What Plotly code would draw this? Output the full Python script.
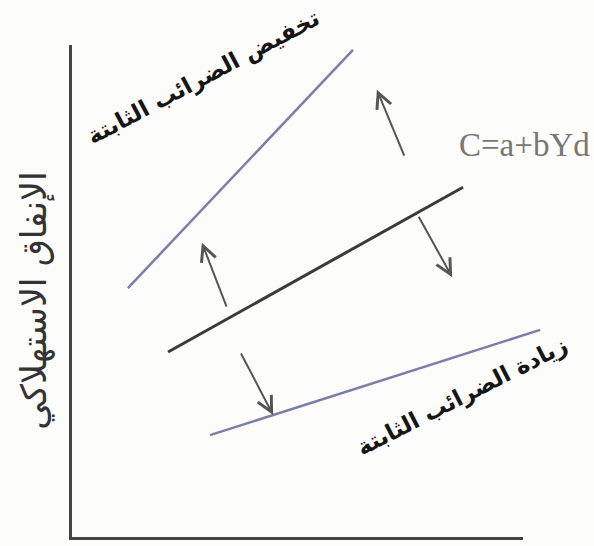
import plotly.graph_objects as go

# consumption lines (income Yd on x, consumption C on y), arbitrary units
yd_tax_cut = [1.24, 6.23]
c_tax_cut = [5.06, 9.90]
yd_base = [2.13, 8.67]
c_base = [3.76, 7.11]
yd_tax_rise = [3.06, 10.38]
c_tax_rise = [2.07, 4.21]

# shift arrows: tail -> head
arrow_tail_x = [3.44, 7.38, 7.67, 3.73]
arrow_tail_y = [4.65, 7.72, 6.54, 3.76]
arrow_head_x = [2.88, 6.76, 8.43, 4.46]
arrow_head_y = [5.98, 9.09, 5.28, 2.48]

label_cut = "تخفيض الضرائب الثابتة"
label_rise = "زيادة الضرائب الثابتة"
label_y = "الإنفاق الاستهلاكي"
label_eq = "C=a+bYd"

X_RANGE = [-1.596, 11.574]
Y_RANGE = [-0.183, 10.915]
AXIS_MAX = 10

BLUE = "#7b7fa8"
DARK = "#3a3a3a"
ARROW = "#555555"


def frac(v, rng):
    return (v - rng[0]) / (rng[1] - rng[0])


fig = go.Figure()
fig.add_trace(go.Scatter(x=yd_tax_cut, y=c_tax_cut, mode="lines",
                         line=dict(color=BLUE, width=2.5), hoverinfo="skip"))
fig.add_trace(go.Scatter(x=yd_base, y=c_base, mode="lines",
                         line=dict(color=DARK, width=3), hoverinfo="skip"))
fig.add_trace(go.Scatter(x=yd_tax_rise, y=c_tax_rise, mode="lines",
                         line=dict(color=BLUE, width=2.5), hoverinfo="skip"))
# empty trace so the L-shaped axes get drawn
fig.add_trace(go.Scatter(x=[], y=[], xaxis="x2", yaxis="y2"))

for tx, ty, hx, hy in zip(arrow_tail_x, arrow_tail_y, arrow_head_x, arrow_head_y):
    fig.add_annotation(
        x=hx, y=hy, ax=tx, ay=ty, xref="x", yref="y", axref="x", ayref="y",
        text="", showarrow=True, arrowhead=5, arrowsize=1.5, arrowwidth=2,
        arrowcolor=ARROW, standoff=0,
    )

label_font = dict(family="DejaVu Sans", size=23, color="#151515", weight="bold")
fig.add_annotation(x=2.91, y=9.33, text=label_cut, showarrow=False,
                   textangle=-28, font=label_font)
fig.add_annotation(x=8.65, y=2.85, text=label_rise, showarrow=False,
                   textangle=-27, font=label_font)
fig.add_annotation(x=-0.82, y=4.80, text=label_y, showarrow=False,
                   textangle=-90, font=dict(family="DejaVu Sans", size=35, color="#333333"))
fig.add_annotation(x=8.54, y=7.97, text=label_eq, showarrow=False, xanchor="left",
                   font=dict(family="Liberation Serif", size=33, color="#777777"))

hidden = dict(visible=False, fixedrange=True)
fig.update_layout(
    width=594,
    height=546,
    margin=dict(l=0, r=0, t=0, b=0),
    paper_bgcolor="#fcfcfa",
    plot_bgcolor="rgba(0,0,0,0)",
    showlegend=False,
    xaxis=dict(range=X_RANGE, domain=[0, 1], **hidden),
    yaxis=dict(range=Y_RANGE, domain=[0, 1], **hidden),
    xaxis2=dict(
        range=[0, AXIS_MAX], anchor="y2",
        domain=[frac(0, X_RANGE), frac(AXIS_MAX, X_RANGE)],
        showline=True, linecolor="#444444", linewidth=3,
        showgrid=False, zeroline=False, showticklabels=False, ticks="",
        fixedrange=True,
    ),
    yaxis2=dict(
        range=[0, AXIS_MAX], anchor="x2",
        domain=[frac(0, Y_RANGE), frac(AXIS_MAX, Y_RANGE)],
        showline=True, linecolor="#444444", linewidth=3,
        showgrid=False, zeroline=False, showticklabels=False, ticks="",
        fixedrange=True,
    ),
)

fig.write_html("out.html", config={"displayModeBar": False},
               post_script="document.body.style.margin = '0';")
